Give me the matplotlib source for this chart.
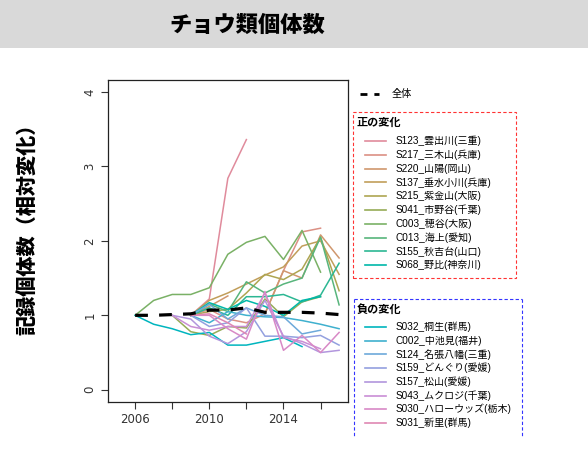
import numpy as np
import matplotlib
matplotlib.use('Agg')
import matplotlib.pyplot as plt
from matplotlib.lines import Line2D
from matplotlib.patches import Rectangle

nan = np.nan

# データ ---------------------------------------------------------------
years = [2006, 2007, 2008, 2009, 2010, 2011, 2012, 2013, 2014, 2015, 2016, 2017]

zentai = [1.00, 1.00, 1.01, 1.02, 1.07, 1.07, 1.10, 1.04, 1.04, 1.04, 1.03, 1.01]

pos_names = ['S123_雲出川(三重)', 'S217_三木山(兵庫)', 'S220_山陽(岡山)', 'S137_垂水小川(兵庫)',
             'S215_紫金山(大阪)', 'S041_市野谷(千葉)', 'C003_穂谷(大阪)', 'C013_海上(愛知)',
             'S155_秋吉台(山口)', 'S068_野比(神奈川)']
s123 = [nan, nan, nan, 1.00, 1.22, 2.84, 3.36, nan, nan, nan, nan, nan]
s217 = [nan, nan, nan, 1.00, 1.08, 0.95, 0.90, 1.02, 1.60, 2.12, 2.17, nan]
s220 = [nan, nan, nan, 1.00, 1.12, 1.26, nan, 1.02, 1.60, 1.50, 2.08, 1.77]
s137 = [nan, nan, nan, 1.00, 1.20, 1.30, 1.42, 1.54, 1.65, 1.93, 2.00, 1.55]
s215 = [nan, nan, nan, 1.00, 1.05, 1.08, 1.30, 1.55, 1.48, 1.62, 2.05, 1.33]
s041 = [nan, nan, 1.00, 0.78, 0.73, 0.85, 0.83, 1.22, 0.98, 1.18, 1.25, nan]
c003 = [1.00, 1.20, 1.28, 1.28, 1.37, 1.82, 1.98, 2.06, 1.75, 2.14, 1.58, nan]
c013 = [nan, nan, nan, 1.00, 1.15, 1.05, 1.45, 1.30, 1.42, 1.50, 2.05, 1.14]
s155 = [nan, nan, nan, 1.00, 1.10, 1.00, 1.25, 1.25, 1.28, 1.18, 1.27, 1.70]
s068 = [nan, nan, nan, 1.00, 1.17, 1.08, 1.20, 1.12, 1.00, 1.20, 1.25, nan]
pos_vals = [s123, s217, s220, s137, s215, s041, c003, c013, s155, s068]

neg_names = ['S032_桐生(群馬)', 'C002_中池見(福井)', 'S124_名張八幡(三重)', 'S159_どんぐり(愛媛)',
             'S157_松山(愛媛)', 'S043_ムクロジ(千葉)', 'S030_ハローウッズ(栃木)', 'S031_新里(群馬)']
s032 = [1.00, 0.88, 0.82, 0.74, 0.77, 0.60, 0.60, 0.65, 0.70, 0.58, nan, nan]
c002 = [nan, nan, nan, 1.00, 0.90, 1.05, 1.00, 0.98, 0.97, 0.93, 0.88, 0.82]
s124 = [nan, nan, nan, 1.00, 1.15, 0.95, 1.10, 1.00, 0.98, 0.75, 0.80, nan]
s159 = [nan, nan, nan, 1.00, 0.85, 0.90, 1.10, 0.72, 0.72, 0.70, 0.73, 0.60]
s157 = [nan, nan, 1.00, 0.95, 0.72, 0.62, 0.78, 1.20, 0.72, 0.62, 0.50, 0.53]
s043 = [nan, nan, 1.00, 0.85, 0.80, 0.85, 0.85, 1.30, 0.70, 0.65, 0.55, nan]
s030 = [nan, nan, nan, 1.00, 1.00, 0.82, 0.68, 1.32, 0.53, 0.73, 0.50, 0.77]
s031 = [nan, nan, nan, 1.00, 1.02, 0.90, 0.75, nan, nan, nan, nan, nan]
neg_vals = [s032, c002, s124, s159, s157, s043, s030, s031]


# 色 (rainbow_hcl 相当) ---------------------------------------------------
def hcl2hex(h, c, l):
    hr = np.deg2rad(h)
    U, V = c * np.cos(hr), c * np.sin(hr)
    Xn, Yn, Zn = 95.047, 100.0, 108.883
    Y = Yn * ((l + 16) / 116) ** 3 if l > 8 else Yn * l / 903.3
    t = Xn + Yn + Zn
    x, y = Xn / t, Yn / t
    un = 2 * x / (6 * y - x + 1.5)
    vn = 4.5 * y / (6 * y - x + 1.5)
    u = U / (13 * l) + un
    v = V / (13 * l) + vn
    X = 9.0 * Y * u / (4 * v)
    Z = -X / 3 - 5 * Y + 3 * Y / v
    rgb = np.array([3.240479 * X - 1.537150 * Y - 0.498535 * Z,
                    -0.969256 * X + 1.875992 * Y + 0.041556 * Z,
                    0.055648 * X - 0.204043 * Y + 1.057311 * Z]) / 100
    rgb = np.where(rgb > 0.00304, 1.055 * np.power(np.clip(rgb, 1e-9, None), 1 / 2.4) - 0.055, 12.92 * rgb)
    return tuple(np.clip(rgb, 0, 1))


n_all = len(pos_vals) + len(neg_vals)
colors = [hcl2hex(360 * i / n_all, 55, 67) for i in range(n_all)]
pos_colors = colors[:len(pos_vals)]
neg_colors = colors[len(pos_vals):]

W, H = 588, 461
def fx(x):
    return x / W
def fy(y):
    return 1 - y / H

jp = ['Liberation Sans', 'Noto Sans CJK JP']

fig = plt.figure(figsize=(5.88, 4.61), dpi=100)

# タイトル帯
fig.add_artist(Rectangle((0, fy(48)), 1, 48 / H, transform=fig.transFigure,
                         facecolor='#d9d9d9', edgecolor='none', zorder=0))
fig.text(fx(247), fy(25), 'チョウ類個体数', ha='center', va='center',
         fontsize=16, fontweight='heavy', family=['Noto Sans CJK JP'])

# 軸
ax = fig.add_axes([fx(107.7), fy(401.7), fx(348) - fx(107.7), fy(80) - fy(401.7)])
for vals, col in zip(pos_vals, pos_colors):
    ax.plot(years, vals, color=col, lw=1.1)
for vals, col in zip(neg_vals, neg_colors):
    ax.plot(years, vals, color=col, lw=1.1)
ax.plot(years, zentai, color='black', lw=2.3, dashes=(4, 3.5))

ax.set_xlim(2004.52, 2017.48)
ax.set_ylim(-0.16, 4.16)
ax.set_yticks([0, 1, 2, 3, 4])
ax.set_yticklabels(['0', '1', '2', '3', '4'], rotation=90, va='center')
ax.set_xticks([2006, 2008, 2010, 2012, 2014, 2016])
ax.set_xticklabels(['2006', '', '2010', '', '2014', ''])
ax.tick_params(length=5, width=0.8, labelsize=8.5, colors='#333333', pad=3)
for sp in ax.spines.values():
    sp.set_linewidth(0.9)
    sp.set_color('#222222')

# 縦軸ラベル
fig.text(fx(28), fy(224), '記録個体数（相対変化）', rotation=90, ha='center', va='center',
         fontsize=14.5, fontweight='heavy', family=['Noto Sans CJK JP'])

# 凡例 -----------------------------------------------------------------
fig.add_artist(Line2D([fx(360), fx(379)], [fy(94), fy(94)], color='black', lw=2.0,
                      dashes=(2.5, 2.5), transform=fig.transFigure))
fig.text(fx(392), fy(94), '全体', ha='left', va='center', fontsize=7.3, family=jp)

# 正の変化
fig.add_artist(Rectangle((fx(353), fy(278)), fx(516) - fx(353), fy(112) - fy(278),
                         transform=fig.transFigure, fill=False, edgecolor='#ff3333',
                         lw=0.8, linestyle=(0, (3, 2))))
fig.text(fx(357), fy(122), '正の変化', ha='left', va='center', fontsize=8,
         fontweight='bold', family=['Noto Sans CJK JP'])
for i, (name, col) in enumerate(zip(pos_names, pos_colors)):
    yy = 141 + i * 13.8
    fig.add_artist(Line2D([fx(365), fx(386)], [fy(yy), fy(yy)], color=col, lw=1.2,
                          transform=fig.transFigure))
    fig.text(fx(396), fy(yy), name, ha='left', va='center', fontsize=7.2, family=jp)

# 負の変化 (下端は切れている)
box_top, box_bot = 299, 437
for xx in [354, 521.7]:
    fig.add_artist(Line2D([fx(xx), fx(xx)], [fy(box_top), fy(box_bot)], color='#3333ff',
                          lw=0.8, linestyle=(0, (3, 2)), transform=fig.transFigure))
fig.add_artist(Line2D([fx(354), fx(521.7)], [fy(box_top), fy(box_top)], color='#3333ff',
                      lw=0.8, linestyle=(0, (3, 2)), transform=fig.transFigure))
fig.text(fx(357), fy(309), '負の変化', ha='left', va='center', fontsize=8,
         fontweight='bold', family=['Noto Sans CJK JP'])
for i, (name, col) in enumerate(zip(neg_names, neg_colors)):
    yy = 327 + i * 13.7
    fig.add_artist(Line2D([fx(365), fx(386)], [fy(yy), fy(yy)], color=col, lw=1.2,
                          transform=fig.transFigure))
    fig.text(fx(396), fy(yy), name, ha='left', va='center', fontsize=7.2, family=jp)

plt.savefig('out.png', dpi=100)
